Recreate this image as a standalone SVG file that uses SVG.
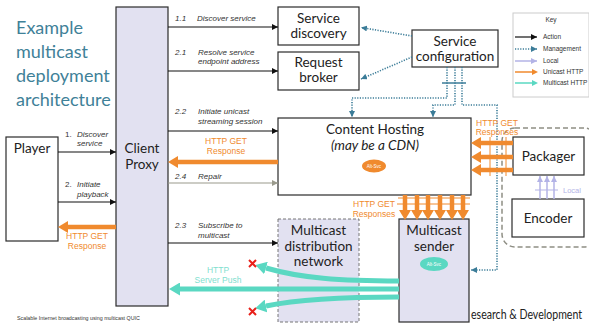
<svg xmlns="http://www.w3.org/2000/svg" width="589" height="326" viewBox="0 0 589 326">
  <style>
    .box { fill: #ffffff; stroke: #2b2b2b; stroke-width: 1.2; }
    .lav { fill: #e2e1f1; stroke: #2b2b2b; stroke-width: 1.2; }
    .dash { fill: #e2e1f1; stroke: #777777; stroke-width: 1; stroke-dasharray: 3 2; }
    .nt { font-family: Lato, "Liberation Sans", sans-serif; font-size: 13.5px; fill: #222222; text-anchor: middle; }
    .lbl { font-family: "Liberation Sans", Arial, sans-serif; font-size: 8px; font-style: italic; fill: #333333; }
    .org { font-family: "Liberation Sans", Arial, sans-serif; font-size: 8.5px; fill: #f08a2e; text-anchor: middle; }
    .act { fill: none; stroke: #111111; stroke-width: 1.2; marker-end: url(#mAct); }
    .mgmt { fill: none; stroke: #3b7c98; stroke-width: 1.6; stroke-dasharray: 1.2 1.4; }
    .uni { fill: none; stroke: #f08a2e; stroke-width: 4.5; marker-end: url(#mUni); }
    .mc { fill: none; stroke: #5ad8c2; stroke-width: 5; marker-end: url(#mMc); }
    .loc { fill: none; stroke: #b3b3e6; stroke-width: 1.5; marker-end: url(#mLoc); }
    .key { font-family: "Liberation Sans", Arial, sans-serif; font-size: 6.5px; fill: #333333; }
  </style>
  <defs>
    <marker id="mAct" markerUnits="userSpaceOnUse" markerWidth="6" markerHeight="6" refX="6" refY="3" orient="auto">
      <path d="M0,0 L6,3 L0,6 z" fill="#111111"/>
    </marker>
    <marker id="mRep" markerUnits="userSpaceOnUse" markerWidth="6" markerHeight="6" refX="6" refY="3" orient="auto">
      <path d="M0,0 L6,3 L0,6 z" fill="#9a9a8c"/>
    </marker>
    <marker id="mMg" markerUnits="userSpaceOnUse" markerWidth="6" markerHeight="6" refX="6" refY="3" orient="auto">
      <path d="M0,0 L6,3 L0,6 z" fill="#3b7c98"/>
    </marker>
    <marker id="mUni" markerUnits="userSpaceOnUse" markerWidth="10" markerHeight="12" refX="0" refY="6" orient="auto">
      <path d="M0,0 L10,6 L0,12 z" fill="#f08a2e"/>
    </marker>
    <marker id="mMc" markerUnits="userSpaceOnUse" markerWidth="11" markerHeight="13" refX="0" refY="6.5" orient="auto">
      <path d="M0,0 L11,6.5 L0,13 z" fill="#5ad8c2"/>
    </marker>
    <marker id="mLoc" markerUnits="userSpaceOnUse" markerWidth="6" markerHeight="6" refX="6" refY="3" orient="auto">
      <path d="M0,0 L6,3 L0,6 z" fill="#b3b3e6"/>
    </marker>
  </defs>

  <rect width="589" height="326" fill="#ffffff"/>

  <!-- Title -->
  <g id="title" font-family="Lato, 'Liberation Sans', sans-serif" font-size="18" fill="#3f8198">
    <text x="16" y="34">Example</text>
    <text x="16" y="58">multicast</text>
    <text x="16" y="82">deployment</text>
    <text x="16" y="106">architecture</text>
  </g>

  <!-- Packager / Encoder grouping -->
  <rect x="502" y="128" width="95" height="119" rx="13" fill="none" stroke="#8e8e84" stroke-width="1.5" stroke-dasharray="5 3"/>

  <!-- Nodes -->
  <g id="client-proxy">
    <rect class="lav" x="116" y="7" width="52" height="299"/>
    <text class="nt" x="142" y="153" font-size="15">Client</text>
    <text class="nt" x="142" y="169" font-size="15">Proxy</text>
  </g>
  <g id="player">
    <rect class="box" x="6" y="137" width="52" height="104"/>
    <text class="nt" x="32" y="153">Player</text>
  </g>
  <g id="service-discovery">
    <rect class="box" x="278" y="7" width="81" height="38"/>
    <text class="nt" x="318.5" y="23">Service</text>
    <text class="nt" x="318.5" y="38">discovery</text>
  </g>
  <g id="request-broker">
    <rect class="box" x="278" y="52" width="81" height="38"/>
    <text class="nt" x="318.5" y="67">Request</text>
    <text class="nt" x="318.5" y="82">broker</text>
  </g>
  <g id="service-configuration">
    <rect class="box" x="412" y="30" width="86" height="37"/>
    <text class="nt" x="455" y="46">Service</text>
    <text class="nt" x="455" y="61">configuration</text>
  </g>
  <g id="content-hosting">
    <rect class="box" x="278" y="118" width="193" height="77"/>
    <text class="nt" x="375" y="134" font-size="15">Content Hosting</text>
    <text class="nt" x="375" y="150" font-style="italic">(may be a CDN)</text>
    <ellipse cx="374" cy="166" rx="12" ry="6.5" fill="#f08a2e"/>
    <text x="374" y="168" font-family="'Liberation Sans', sans-serif" font-size="4.5" fill="#ffffff" text-anchor="middle">Alt-Svc</text>
  </g>
  <g id="packager">
    <rect class="box" x="513" y="137" width="71" height="38"/>
    <text class="nt" x="548.5" y="161">Packager</text>
  </g>
  <g id="encoder">
    <rect class="box" x="512" y="199" width="72" height="38"/>
    <text class="nt" x="548" y="223">Encoder</text>
  </g>
  <g id="multicast-distribution-network">
    <rect class="dash" x="278" y="219" width="81" height="103"/>
    <text class="nt" x="318.5" y="235">Multicast</text>
    <text class="nt" x="318.5" y="251">distribution</text>
    <text class="nt" x="318.5" y="266">network</text>
  </g>
  <g id="multicast-sender">
    <rect class="lav" x="399" y="219" width="70" height="103"/>
    <text class="nt" x="434" y="235">Multicast</text>
    <text class="nt" x="434" y="251">sender</text>
    <ellipse cx="434" cy="264" rx="14" ry="7" fill="#5ad8c2"/>
    <text x="434" y="266" font-family="'Liberation Sans', sans-serif" font-size="4.5" fill="#ffffff" text-anchor="middle">Alt-Svc</text>
  </g>

  <!-- Connectors -->
  <g id="connectors">
    <!-- actions -->
    <line class="act" x1="58" y1="152" x2="116" y2="152"/>
    <line class="act" x1="58" y1="202" x2="116" y2="202"/>
    <line class="act" x1="168" y1="27" x2="278" y2="27"/>
    <line class="act" x1="168" y1="71" x2="278" y2="71"/>
    <line class="act" x1="168" y1="131" x2="278" y2="131"/>
    <line x1="168" y1="183" x2="278" y2="183" stroke="#9a9a8c" stroke-width="1.2" marker-end="url(#mRep)"/>
    <line class="act" x1="168" y1="243" x2="278" y2="243"/>

    <!-- management -->
    <path class="mgmt" d="M412,36 L361,27.5" marker-end="url(#mMg)"/>
    <path class="mgmt" d="M412,57 L361,79" marker-end="url(#mMg)"/>
    <path class="mgmt" d="M447,67 V98 H352 V117" marker-end="url(#mMg)"/>
    <path class="mgmt" d="M455,67 V105 H433 V117" marker-end="url(#mMg)"/>
    <path class="mgmt" d="M462,67 V105 H497 V270 H471" marker-end="url(#mMg)"/>
    <line x1="442" y1="83" x2="466" y2="83" stroke="#3b7c98" stroke-width="1.5"/>

    <!-- unicast HTTP -->
    <line class="uni" x1="116" y1="227" x2="68" y2="227"/>
    <line class="uni" x1="278" y1="162" x2="178" y2="162"/>
    <line class="uni" x1="513" y1="143" x2="481" y2="143"/>
    <line class="uni" x1="513" y1="157" x2="481" y2="157"/>
    <line class="uni" x1="513" y1="170" x2="481" y2="170"/>
    <line x1="490" y1="137" x2="490" y2="176" stroke="#f08a2e" stroke-width="1"/>
    <line x1="506" y1="137" x2="506" y2="176" stroke="#f08a2e" stroke-width="1"/>
    <line class="uni" x1="405" y1="195" x2="405" y2="210"/>
    <line class="uni" x1="417" y1="195" x2="417" y2="210"/>
    <line class="uni" x1="428" y1="195" x2="428" y2="210"/>
    <line class="uni" x1="440" y1="195" x2="440" y2="210"/>
    <line class="uni" x1="452" y1="195" x2="452" y2="210"/>
    <line class="uni" x1="463" y1="195" x2="463" y2="210"/>
    <line x1="398" y1="198" x2="470" y2="198" stroke="#f08a2e" stroke-width="1"/>
    <line x1="397" y1="204" x2="470" y2="204" stroke="#f08a2e" stroke-width="1"/>

    <!-- local -->
    <line class="loc" x1="540" y1="199" x2="540" y2="176"/>
    <line class="loc" x1="547" y1="199" x2="547" y2="176"/>
    <line class="loc" x1="554" y1="199" x2="554" y2="176"/>
    <line x1="535" y1="190" x2="558" y2="190" stroke="#b3b3e6" stroke-width="1"/>

    <!-- multicast HTTP -->
    <path class="mc" d="M399,281 C340,281 300,278 266,268"/>
    <path class="mc" d="M399,289 L180,289"/>
    <path class="mc" d="M399,297 C340,297 300,299 266,306"/>

    <!-- dropped packets -->
    <g stroke="#e8201a" stroke-width="2">
      <path d="M249,260 L256,267 M256,260 L249,267"/>
      <path d="M249,308 L256,315 M256,308 L249,315"/>
    </g>
  </g>

  <!-- Connector labels -->
  <g id="labels">
    <text class="lbl" x="65" y="137"><tspan font-style="normal">1.</tspan><tspan x="77">Discover</tspan></text>
    <text class="lbl" x="77" y="146">service</text>
    <text class="lbl" x="65" y="187"><tspan font-style="normal">2.</tspan><tspan x="77">Initiate</tspan></text>
    <text class="lbl" x="77" y="197">playback</text>

    <text class="lbl" x="175" y="21"><tspan>1.1</tspan><tspan x="197">Discover service</tspan></text>
    <text class="lbl" x="175" y="55"><tspan>2.1</tspan><tspan x="198">Resolve service</tspan></text>
    <text class="lbl" x="198" y="64">endpoint address</text>
    <text class="lbl" x="175" y="114"><tspan>2.2</tspan><tspan x="198">Initiate unicast</tspan></text>
    <text class="lbl" x="198" y="124">streaming session</text>
    <text class="lbl" x="175" y="179" fill="#9a9a8c" font-style="normal"><tspan>2.4</tspan><tspan x="198">Repair</tspan></text>
    <text class="lbl" x="175" y="228"><tspan>2.3</tspan><tspan x="198">Subscribe to</tspan></text>
    <text class="lbl" x="198" y="238">multicast</text>

    <text class="org" x="87" y="239">HTTP GET</text>
    <text class="org" x="87" y="249">Response</text>
    <text class="org" x="226" y="144">HTTP GET</text>
    <text class="org" x="226" y="154">Response</text>
    <text class="org" x="497" y="126">HTTP GET</text>
    <text class="org" x="497" y="135">Responses</text>
    <text class="org" x="374" y="207">HTTP GET</text>
    <text class="org" x="374" y="217">Responses</text>
    <text x="218" y="273" font-family="'Liberation Sans', Arial, sans-serif" font-size="8.5" fill="#7fe0cf" text-anchor="middle">HTTP</text>
    <text x="218" y="283" font-family="'Liberation Sans', Arial, sans-serif" font-size="8.5" fill="#7fe0cf" text-anchor="middle">Server Push</text>
    <text x="563" y="193" font-family="'Liberation Sans', Arial, sans-serif" font-size="7.5" fill="#b3b3e6">Local</text>
  </g>

  <!-- Key -->
  <g id="key">
    <rect x="513" y="13" width="76" height="84" fill="#ffffff" stroke="#cccccc" stroke-width="1"/>
    <text class="key" x="551" y="22" text-anchor="middle">Key</text>
    <line x1="515" y1="37" x2="537" y2="37" stroke="#111111" stroke-width="1.2" marker-end="url(#mAct)"/>
    <line x1="515" y1="49" x2="537" y2="49" class="mgmt" marker-end="url(#mMg)"/>
    <line x1="515" y1="61" x2="537" y2="61" stroke="#b3b3e6" stroke-width="1.5" marker-end="url(#mLoc)"/>
    <line x1="515" y1="72" x2="532" y2="72" stroke="#f08a2e" stroke-width="1.5"/>
    <path d="M532,69 L538,72 L532,75 z" fill="#f08a2e"/>
    <line x1="515" y1="83" x2="532" y2="83" stroke="#5ad8c2" stroke-width="1.5"/>
    <path d="M532,80 L538,83 L532,86 z" fill="#5ad8c2"/>
    <text class="key" x="543" y="39">Action</text>
    <text class="key" x="543" y="51">Management</text>
    <text class="key" x="543" y="63">Local</text>
    <text class="key" x="543" y="74">Unicast HTTP</text>
    <text class="key" x="543" y="85">Multicast HTTP</text>
  </g>

  <!-- Footer -->
  <text x="17" y="320" font-family="'Liberation Sans', Arial, sans-serif" font-size="5.3" fill="#333333">Scalable Internet broadcasting using multicast QUIC</text>
  <text x="471" y="319" font-family="Lato, 'Liberation Sans', sans-serif" font-size="12.5" fill="#222222" textLength="111" lengthAdjust="spacingAndGlyphs">esearch &amp; Development</text>
</svg>
